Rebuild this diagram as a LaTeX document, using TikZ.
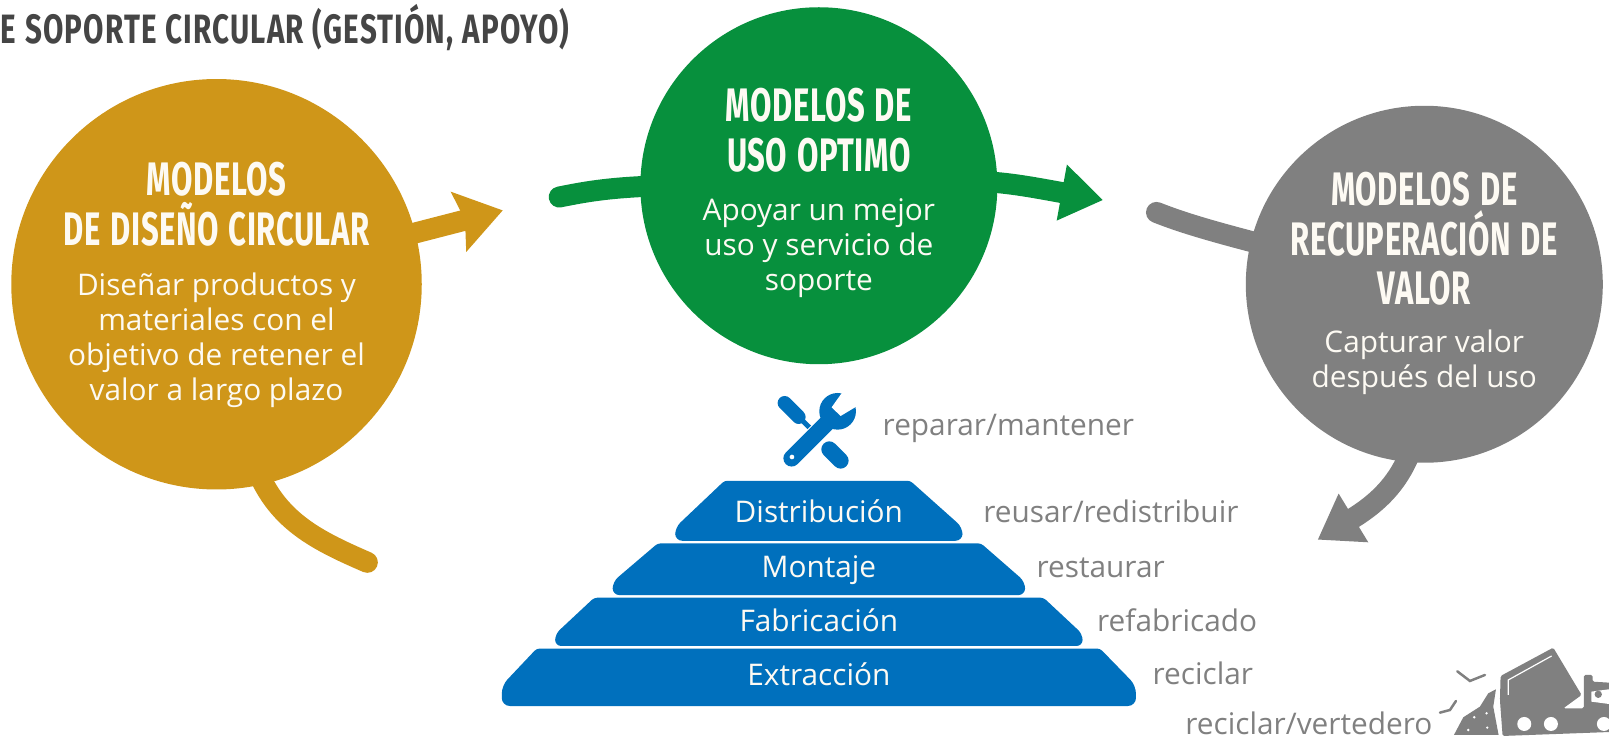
\documentclass[tikz,border=0pt]{standalone}
\usepackage{fontspec}
\setmainfont{Open Sans}
\newfontfamily\headf[FakeStretch=0.66,LetterSpace=1.2,WordSpace=1.25]{Fira Sans}
\newfontfamily\titlef[FakeStretch=0.72,LetterSpace=2.8,WordSpace=1.1]{Fira Sans}
\usetikzlibrary{arrows.meta,backgrounds}
\definecolor{goldc}{HTML}{CF9619}
\definecolor{greenc}{HTML}{07903D}
\definecolor{greyc}{HTML}{808080}
\definecolor{bluec}{HTML}{0070BD}
\definecolor{titlec}{HTML}{454545}
\definecolor{softw}{HTML}{FDFAF3}
\tikzset{
  circ/.style={circle,inner sep=0pt},
  hd/.style={text=softw,inner sep=0pt,align=center,anchor=north,font=\headf\bfseries\fontsize{47}{49.5}\selectfont},
  bd/.style={text=softw,inner sep=0pt,align=center,anchor=north,font=\fontsize{29.8}{35}\selectfont},
  link/.style={line width=21pt,line cap=round},
  lab/.style={anchor=base west,text=greyc,inner sep=0pt,font=\fontsize{29.8}{34}\selectfont},
  tier/.style={fill=bluec},
  tiertxt/.style={text=softw,inner sep=0pt,anchor=base,font=\fontsize{29.8}{34}\selectfont},
  headA/.style={-{Stealth[length=45pt,width=60pt,inset=6pt]}},
  headB/.style={-{Triangle[length=42pt,width=54pt]}},
}
\begin{document}
\begin{tikzpicture}[x=1.0262pt,y=-1.0262pt]
\useasboundingbox (0,0) rectangle (1568,722);
% circles
\node[circ,fill=goldc,minimum size=410.5pt] (gold) at (211,277) {};
\node[circ,fill=greenc,minimum size=357pt] (green) at (798,181) {};
\node[circ,fill=greyc,minimum size=357pt] (grey) at (1388,277) {};
\node[hd] (goldh) at (211,158) {MODELOS\\DE DISEÑO CIRCULAR};
\node[bd] (goldb) at (211,266) {Diseñar productos y\\materiales con el\\objetivo de retener el\\valor a largo plazo};
\node[hd] (greenh) at (798,86) {MODELOS DE\\USO OPTIMO};
\node[bd] (greenb) at (798,193) {Apoyar un mejor\\uso y servicio de\\soporte};
\node[hd] (greyh) at (1388,168) {MODELOS DE\\RECUPERACIÓN DE\\VALOR};
\node[bd] (greyb) at (1388,321) {Capturar valor\\después del uso};
% free ends
\coordinate (goldtip) at (490,205);
\coordinate (goldtail) at (358,548);
\coordinate (greentail) at (545,192);
\coordinate (greentip) at (1075,195);
\coordinate (greytail) at (1127,207);
\coordinate (greytip) at (1284,526);
\begin{scope}[on background layer]
\draw[link,goldc,headA,line cap=butt] (gold.center) -- (goldtip);
\draw[link,goldc] (goldtail) .. controls (305,525) and (265,505) .. ([yshift=30pt]gold.-80);
\draw[link,greenc] (greentail) .. controls (590,183) and (620,178) .. (green.center);
\draw[link,greenc,headB,line cap=butt] (green.center) .. controls (960,174) .. (greentip);
\draw[link,greyc] (greytail) .. controls (1160,220) and (1200,232) .. (grey.center);
\draw[link,greyc,headB,line cap=butt] (grey.center) .. controls (1396,420) and (1376,470) .. (greytip);
\end{scope}
% title
\node[anchor=base east,inner sep=0pt,text=titlec,font=\titlef\bfseries\fontsize{41}{45}\selectfont] (title) at (555,42) {E SOPORTE CIRCULAR (GESTIÓN, APOYO)};
% pyramid
\fill[tier,rounded corners=3pt] (706,468.5) -- (887,468.5) [rounded corners=7pt] -- (938,514) -- (938,527) -- (658,527) -- (658,514) [rounded corners=3pt] -- cycle;
\fill[tier,rounded corners=3pt] (641,529.5) -- (956,529.5) [rounded corners=7pt] -- (999,567) -- (999,580) -- (597,580) -- (597,567) [rounded corners=3pt] -- cycle;
\fill[tier,rounded corners=3pt] (579,582.5) -- (1017,582.5) [rounded corners=6pt] -- (1055,618) -- (1055,629.5) -- (541,629.5) -- (541,618) [rounded corners=3pt] -- cycle;
\fill[tier,rounded corners=3pt] (523,632) -- (1072,632) [rounded corners=8pt] -- (1107,668) -- (1107,688) -- (489,688) -- (489,668) [rounded corners=3pt] -- cycle;
\node[tiertxt] (t1) at (798,509) {Distribución};
\node[tiertxt] (t2) at (798,563) {Montaje};
\node[tiertxt] (t3) at (798,615) {Fabricación};
\node[tiertxt] (t4) at (798,668) {Extracción};
% labels
\node[lab] (l0) at (860,424) {reparar/mantener};
\node[lab] (l1) at (958,509) {reusar/redistribuir};
\node[lab] (l2) at (1010,563) {restaurar};
\node[lab] (l3) at (1069,615) {refabricado};
\node[lab] (l4) at (1123,667) {reciclar};
\node[lab] (l5) at (1155,716) {reciclar/vertedero};
% tools icon
\begin{scope}[x=0.33333pt,y=-0.33333pt,shift={(720pt,-370pt)}]
\draw[bluec,line width=14pt,line cap=round] (194,99) -- (236,141);
\draw[bluec,line width=5pt] (235,140) -- (268,172);
\draw[bluec,line width=16pt,line cap=round] (328,238) -- (362,272);
\draw[bluec,line width=16.5pt,line cap=round] (215,265) -- (320,160);
\fill[bluec] (353,124) circle[radius=55];
\fill[white] (372,60) -- (335,112) -- (362,138) -- (412,108) -- (425,60) -- cycle;
\fill[white] (216,261) circle[radius=7];
\end{scope}
% truck icon
\begin{scope}[x=0.33333pt,y=-0.33333pt,shift={(1380pt,-600pt)},greyc]
\fill[greyc,rounded corners=1.5pt] (362,228) -- (520,143) -- (605,285) -- (550,325) -- (612,325) -- (612,225) -- (638,225) -- (638,245) -- (720,250) -- (720,395) -- (368,408) -- (360,300) -- cycle;
\fill[greyc] (222,405) -- (250,352) -- (300,320) -- (325,280) -- (348,268) -- (340,320) -- (356,405) -- cycle;
\draw[white,line width=1.2pt] (385,285) -- (385,240) -- (515,168);
\fill[white] (634,275) -- (687,268) -- (687,312) -- (634,305) -- cycle;
\fill[greyc] (655,283) circle[radius=11];
\fill[greyc] (648,325) circle[radius=9];
\fill[white] (433,372) circle[radius=21];
\fill[white] (513,372) circle[radius=21];
\fill[white] (672,372) circle[radius=21];
\foreach \p in {(283,352),(320,340),(265,390),(322,383)} \fill[white] \p circle[radius=4];
\draw[greyc,line width=2.5pt,line cap=round] (232,214) -- (270,243) -- (315,225);
\draw[greyc,line width=2.5pt,line cap=round] (180,338) -- (210,330) -- (228,303);
\end{scope}
\end{tikzpicture}
\end{document}
